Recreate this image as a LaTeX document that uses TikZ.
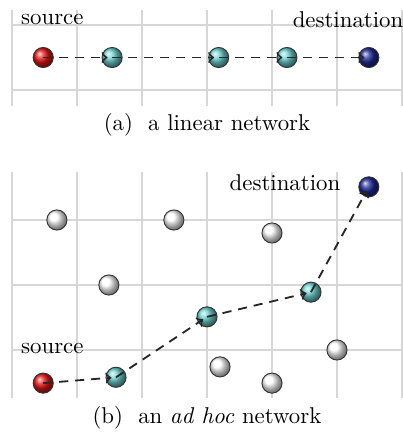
\documentclass[tikz,border=0pt]{standalone}
\usetikzlibrary{calc, positioning}
\definecolor{GridGray}{RGB}{215,215,215}
\definecolor{HopTeal}{RGB}{110,210,210}
\definecolor{DestBlue}{RGB}{30,40,150}
\definecolor{SrcRed}{RGB}{230,20,20}

\begin{document}
\begin{tikzpicture}[
  ball/.style={%
    circle, draw=black!80, line width=0.4pt,
    minimum size=0.31cm, inner sep=0pt},
  src/.style={ball, ball color=SrcRed},
  hop/.style={ball, ball color=HopTeal},
  dst/.style={ball, ball color=DestBlue},
  idle/.style={ball, ball color=white},
  hopline/.style={->, dash pattern=on 4pt off 3pt, line width=0.8pt,
    color=black!85, shorten >=2pt},
  gridline/.style={GridGray, line width=0.6pt}
]
\useasboundingbox (-0.185,-0.262) rectangle (6.015,6.385);

% (a) linear network
\draw[gridline] (0,4.75) grid (6,6.23);
\node (srcA)  at (0.62,6.08) {source};
\node (dstA)  at (5.17,6.08) {destination};
\node[src] (a0) at (0.48,5.5) {};
\node[hop] (a1) at (1.54,5.5) {};
\node[hop] (a2) at (3.18,5.5) {};
\node[hop] (a3) at (4.23,5.5) {};
\node[dst] (a4) at (5.49,5.5) {};
\draw[hopline] (a0.center) -- (a1.center);
\draw[hopline] (a1.center) -- (a2.center);
\draw[hopline] (a2.center) -- (a3.center);
\draw[hopline] (a3.center) -- (a4.center);
\node (capA) at (3,4.46) {(a)~~a linear network};

% (b) ad hoc network
\draw[gridline] (0,0.26) grid (6,3.74);
\node (srcB) at (0.62,1.02) {source};
\node (dstB) at (4.2,3.57)  {destination};
\node[idle] (w1) at (0.69,3.0) {};
\node[idle] (w2) at (2.49,3.0) {};
\node[idle] (w3) at (4.0,2.8)  {};
\node[idle] (w4) at (1.49,2.0) {};
\node[idle] (w5) at (5.0,1.0)  {};
\node[idle] (w6) at (3.2,0.74) {};
\node[idle] (w7) at (4.0,0.49) {};
\node[src] (b0) at (0.48,0.49) {};
\node[hop] (b1) at (1.6,0.58)  {};
\node[hop] (b2) at (3.0,1.51)  {};
\node[hop] (b3) at (4.6,1.89)  {};
\node[dst] (b4) at (5.49,3.51) {};
\draw[hopline] (b0.center) -- (b1.center);
\draw[hopline] (b1.center) -- (b2.center);
\draw[hopline] (b2.center) -- (b3.center);
\draw[hopline] (b3.center) -- (b4.center);
\node (capB) at (3,-0.05) {(b)~~an \textit{ad hoc} network};
\end{tikzpicture}
\end{document}
